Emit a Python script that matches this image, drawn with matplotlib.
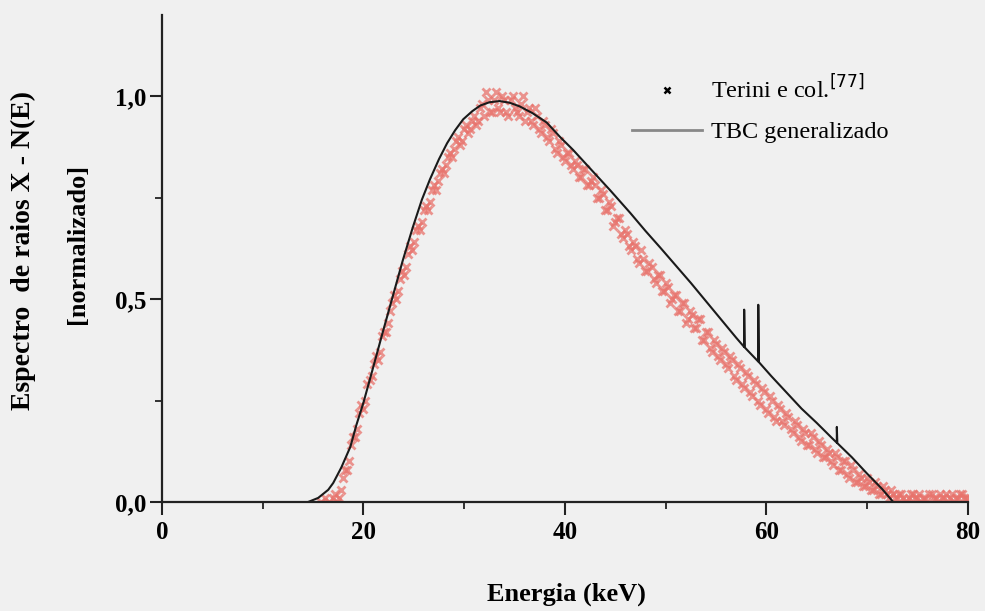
import numpy as np
import matplotlib.pyplot as plt
from matplotlib.lines import Line2D

e_terini_a = [15.8, 16.2, 16.6,
              17.0, 17.4, 17.8, 18.2, 18.6, 19.0, 19.4, 19.8, 20.2, 20.6,
              21.0, 21.4, 21.8, 22.2, 22.6, 23.0, 23.4, 23.8, 24.2, 24.6,
              25.0, 25.4, 25.8, 26.2, 26.6, 27.0, 27.4, 27.8, 28.2, 28.6,
              29.0, 29.4, 29.8, 30.2, 30.6, 31.0, 31.4, 31.8, 32.2, 32.6,
              33.0, 33.4, 33.8, 34.2, 34.6, 35.0, 35.4, 35.8, 36.2, 36.6,
              37.0, 37.4, 37.8, 38.2, 38.6, 39.0, 39.4, 39.8, 40.2, 40.6,
              41.0, 41.4, 41.8, 42.2, 42.6, 43.0, 43.4, 43.8, 44.2, 44.6,
              45.0, 45.4, 45.8, 46.2, 46.6, 47.0, 47.4, 47.8, 48.2, 48.6,
              49.0, 49.4, 49.8, 50.2, 50.6, 51.0, 51.4, 51.8, 52.2, 52.6,
              53.0, 53.4, 53.8, 54.2, 54.6, 55.0, 55.4, 55.8, 56.2, 56.6,
              57.0, 57.4, 57.8, 58.2, 58.6, 59.0, 59.4, 59.8, 60.2, 60.6,
              61.0, 61.4, 61.8, 62.2, 62.6, 63.0, 63.4, 63.8, 64.2, 64.6,
              65.0, 65.4, 65.8, 66.2, 66.6, 67.0, 67.4, 67.8, 68.2, 68.6,
              69.0, 69.4, 69.8, 70.2, 70.6, 71.0, 71.4, 71.8, 72.2, 72.6,
              73.0, 73.4, 73.8, 74.2, 74.6, 75.0, 75.4, 75.8, 76.2, 76.6,
              77.0, 77.4, 77.8, 78.2, 78.6, 79.0, 79.4, 79.8, 80.0]
n_terini_a = [0.00, 0.01, 0.00,
              0.01, 0.00, 0.03, 0.08, 0.10, 0.16, 0.18, 0.24, 0.25, 0.30,
              0.34, 0.35, 0.41, 0.42, 0.47, 0.51, 0.52, 0.57, 0.58, 0.63,
              0.64, 0.68, 0.69, 0.73, 0.74, 0.78, 0.79, 0.82, 0.83, 0.86,
              0.87, 0.90, 0.89, 0.93, 0.92, 0.95, 0.94, 0.98, 1.01, 0.96,
              0.99, 0.97, 1.00, 0.96, 0.99, 0.97, 0.95, 1.00, 0.96, 0.94,
              0.97, 0.92, 0.94, 0.90, 0.92, 0.87, 0.89, 0.85, 0.86, 0.83,
              0.84, 0.80, 0.82, 0.78, 0.79, 0.78, 0.75, 0.76, 0.72, 0.73,
              0.69, 0.70, 0.65, 0.66, 0.62, 0.63, 0.59, 0.60, 0.57, 0.58,
              0.54, 0.56, 0.52, 0.53, 0.50, 0.51, 0.47, 0.49, 0.45, 0.46,
              0.43, 0.45, 0.40, 0.42, 0.37, 0.39, 0.35, 0.37, 0.33, 0.35,
              0.30, 0.33, 0.28, 0.31, 0.26, 0.29, 0.24, 0.27, 0.22, 0.25,
              0.20, 0.23, 0.19, 0.21, 0.17, 0.19, 0.15, 0.17, 0.14, 0.16,
              0.12, 0.14, 0.11, 0.12, 0.09, 0.11, 0.08, 0.10, 0.06, 0.08,
              0.05, 0.06, 0.04, 0.05, 0.03, 0.04, 0.02, 0.03, 0.01, 0.02,
              0.01, 0.02, 0.00, 0.01, 0.02, 0.01, 0.00, 0.01, 0.02, 0.01,
              0.00, 0.01, 0.02, 0.01, 0.00, 0.01, 0.02, 0.01, 0.01]

e_terini_b = [17.2, 17.6, 18.0, 18.4, 18.8, 19.2, 19.6, 20.0, 20.4, 20.8,
              21.2, 21.6, 22.0, 22.4, 22.8, 23.2, 23.6, 24.0, 24.4, 24.8,
              25.2, 25.6, 26.0, 26.4, 26.8, 27.2, 27.6, 28.0, 28.4, 28.8,
              29.2, 29.6, 30.0, 30.4, 30.8, 31.2, 31.6, 32.0, 32.4, 32.8,
              33.2, 33.6, 34.0, 34.4, 34.8, 35.2, 35.6, 36.0, 36.4, 36.8,
              37.2, 37.6, 38.0, 38.4, 38.8, 39.2, 39.6, 40.0, 40.4, 40.8,
              41.2, 41.6, 42.0, 42.4, 42.8, 43.2, 43.6, 44.0, 44.4, 44.8,
              45.2, 45.6, 46.0, 46.4, 46.8, 47.2, 47.6, 48.0, 48.4, 48.8,
              49.2, 49.6, 50.0, 50.4, 50.8, 51.2, 51.6, 52.0, 52.4, 52.8,
              53.2, 53.6, 54.0, 54.4, 54.8, 55.2, 55.6, 56.0, 56.4, 56.8,
              57.2, 57.6, 58.0, 58.4, 58.8, 59.2, 59.6, 60.0, 60.4, 60.8,
              61.2, 61.6, 62.0, 62.4, 62.8, 63.2, 63.6, 64.0, 64.4, 64.8,
              65.2, 65.6, 66.0, 66.4, 66.8, 67.2, 67.6, 68.0, 68.4, 68.8,
              69.2, 69.6, 70.0, 70.4, 70.8, 71.2, 71.6, 72.0, 72.4, 72.8,
              73.2, 73.6, 74.0, 74.4, 74.8, 75.2, 75.6, 76.0, 76.4, 76.8,
              77.2, 77.6, 78.0, 78.4, 78.8, 79.2, 79.6]
n_terini_b = [0.02, 0.01, 0.06, 0.08, 0.14, 0.16, 0.22, 0.23, 0.29, 0.31,
              0.36, 0.37, 0.42, 0.44, 0.49, 0.50, 0.55, 0.56, 0.61, 0.62,
              0.67, 0.67, 0.72, 0.72, 0.77, 0.77, 0.81, 0.81, 0.85, 0.85,
              0.89, 0.88, 0.92, 0.91, 0.94, 0.93, 0.97, 0.95, 0.99, 0.96,
              1.01, 0.96, 0.99, 0.95, 1.00, 0.96, 0.98, 0.94, 0.97, 0.93,
              0.95, 0.91, 0.93, 0.89, 0.91, 0.86, 0.88, 0.84, 0.86, 0.82,
              0.83, 0.80, 0.82, 0.78, 0.80, 0.75, 0.77, 0.72, 0.74, 0.68,
              0.70, 0.66, 0.67, 0.63, 0.64, 0.60, 0.62, 0.57, 0.59, 0.55,
              0.56, 0.52, 0.54, 0.49, 0.51, 0.47, 0.49, 0.44, 0.47, 0.43,
              0.45, 0.40, 0.42, 0.38, 0.40, 0.36, 0.38, 0.34, 0.36, 0.31,
              0.34, 0.29, 0.32, 0.27, 0.30, 0.25, 0.28, 0.23, 0.26, 0.21,
              0.24, 0.20, 0.22, 0.18, 0.20, 0.16, 0.18, 0.14, 0.17, 0.13,
              0.15, 0.11, 0.13, 0.10, 0.12, 0.08, 0.10, 0.07, 0.09, 0.05,
              0.07, 0.04, 0.06, 0.03, 0.05, 0.02, 0.04, 0.02, 0.03, 0.01,
              0.02, 0.01, 0.00, 0.02, 0.01, 0.02, 0.01, 0.00, 0.02, 0.01,
              0.02, 0.01, 0.00, 0.02, 0.01, 0.02, 0.01]

# Curva TBC generalizado (com linhas características)
e_tbc = [14.5, 15.5, 16.5, 17.0, 17.8, 18.7, 19.3, 20.0, 20.9, 21.9,
         22.9, 23.9, 24.9, 25.8, 26.6, 27.5, 28.3, 29.1, 29.9, 30.8,
         31.6, 32.5, 33.5, 34.5, 35.5, 36.8, 38.2, 39.5, 40.8, 42.5,
         44.5, 46.5, 48.0, 49.5, 51.0, 52.5, 54.0, 55.5, 57.0, 57.8,
         57.8, 57.85, 59.2, 59.2, 59.25, 60.5, 62.0, 63.5, 65.0, 66.5,
         67.0, 67.0, 67.05, 68.5, 70.0, 71.5, 72.6]
n_tbc = [0.0, 0.01, 0.03, 0.047, 0.085, 0.136, 0.19, 0.245, 0.326, 0.417,
         0.506, 0.595, 0.677, 0.745, 0.795, 0.845, 0.884, 0.916, 0.943, 0.963,
         0.977, 0.985, 0.988, 0.984, 0.975, 0.958, 0.935, 0.900, 0.868, 0.822,
         0.768, 0.712, 0.668, 0.626, 0.583, 0.540, 0.495, 0.450, 0.405, 0.382,
         0.474, 0.381, 0.346, 0.486, 0.345, 0.31, 0.27, 0.23, 0.195, 0.158,
         0.146, 0.185, 0.145, 0.11, 0.07, 0.032, 0.0]

bg = '#f0f0f0'
serif = ['Liberation Serif', 'DejaVu Serif']
red = '#e8736c'

fig = plt.figure(figsize=(9.85, 6.11), dpi=100, facecolor=bg)
ax = fig.add_axes([0.1645, 0.1784, 0.818, 0.797], facecolor=bg)

ax.plot(e_terini_a, n_terini_a, 'x', color=red, markersize=6, mew=2.0, alpha=0.75)
ax.plot(e_terini_b, n_terini_b, 'x', color=red, markersize=6, mew=2.0, alpha=0.75)
ax.plot(e_tbc, n_tbc, color='#1a1a1a', linewidth=1.5)

ax.set_xlim(0, 80)
ax.set_ylim(0, 1.2)
ax.spines['top'].set_visible(False)
ax.spines['right'].set_visible(False)
for s in ['left', 'bottom']:
    ax.spines[s].set_linewidth(1.6)
    ax.spines[s].set_color('#222222')

ax.set_xticks([0, 20, 40, 60, 80])
ax.set_xticks([10, 30, 50, 70], minor=True)
ax.set_yticks([0.0, 0.5, 1.0])
ax.set_yticks([0.25, 0.75], minor=True)
ax.set_yticklabels(['0,0', '0,5', '1,0'])
ax.tick_params(which='major', direction='out', length=9, width=1.5, color='#222222')
ax.tick_params(which='minor', direction='out', length=5, width=1.3, color='#222222')
ax.tick_params(axis='x', which='major', pad=5)
ax.tick_params(axis='y', which='major', pad=2)
for lab in ax.get_xticklabels() + ax.get_yticklabels():
    lab.set_family(serif)
    lab.set_fontweight('bold')
    lab.set_fontsize(18)

fig.text(0.575, 0.028, 'Energia (keV)', family=serif, fontweight='bold', fontsize=19,
         ha='center', va='center')
fig.text(0.024, 0.59, 'Espectro  de raios X - N(E)', family=serif, fontweight='bold',
         fontsize=20, rotation=90, ha='center', va='center')
fig.text(0.079, 0.6, '[normalizado]', family=serif, fontweight='bold',
         fontsize=19, rotation=90, ha='center', va='center')

handles = [Line2D([], [], marker='x', color='black', linestyle='none', markersize=5, mew=1.8),
           Line2D([], [], color='#888888', linewidth=2)]
ax.legend(handles, ['Terini e col.$^{[77]}$', 'TBC generalizado'],
          loc='center left', bbox_to_anchor=(0.583, 0.807), frameon=False,
          prop={'family': serif, 'size': 17.5}, handlelength=2.9, handletextpad=0.35,
          labelspacing=0.75, borderpad=0, borderaxespad=0)

plt.savefig('out.png', dpi=100, facecolor=bg)
